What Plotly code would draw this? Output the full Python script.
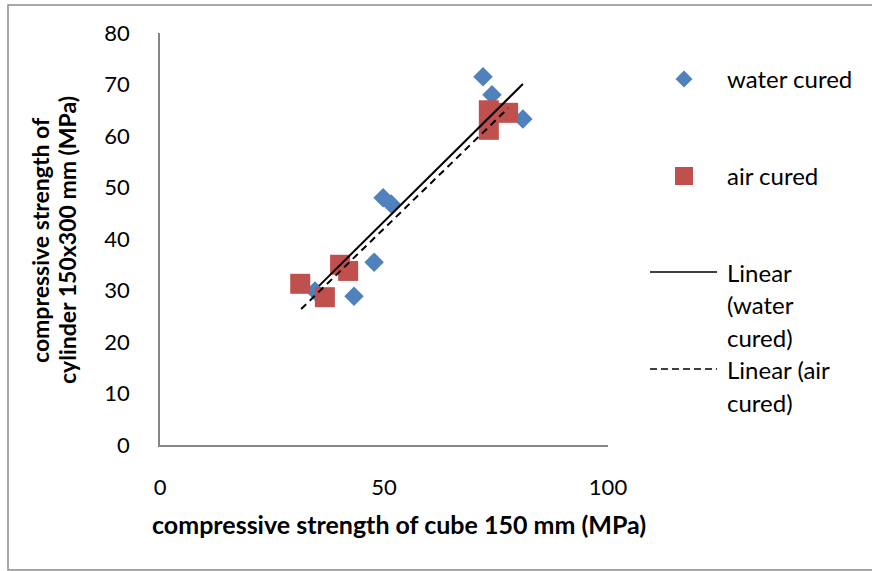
import plotly.graph_objects as go

# Compressive strength: cube (x) vs cylinder (y), MPa
water_cube = [72.1, 74.1, 81.0, 49.8, 51.6, 47.8, 43.3, 34.6]
water_cyl = [71.5, 68.0, 63.3, 48.0, 46.8, 35.5, 28.9, 29.9]
air_cube = [31.3, 36.8, 40.2, 42.0, 73.4, 77.7, 73.4]
air_cyl = [31.3, 28.7, 35.0, 33.8, 65.0, 64.5, 61.2]

# Linear trend lines (end points of the fitted lines)
water_trend_x = [35.5, 81.0]
water_trend_y = [30.9, 70.1]
air_trend_x = [31.5, 77.7]
air_trend_y = [26.4, 65.4]

x_ticks = [0, 50, 100]
y_ticks = [0, 10, 20, 30, 40, 50, 60, 70, 80]

BLUE = "#4F81BD"
RED = "#C0504D"
AXIS = "#868686"
FONT = "Lato"

W, H = 872, 571
L, R, T, B = 160, 264, 33, 126
PW, PH = W - L - R, H - T - B


def px(xp):
    return (xp - L) / PW


def py(yp):
    return (H - B - yp) / PH


fig = go.Figure()
fig.add_trace(go.Scatter(x=water_cube, y=water_cyl, mode="markers",
                         marker=dict(symbol="diamond", size=15, color=BLUE),
                         showlegend=False))
fig.add_trace(go.Scatter(x=air_cube, y=air_cyl, mode="markers",
                         marker=dict(symbol="square", size=20, color=RED),
                         showlegend=False))
fig.add_trace(go.Scatter(x=water_trend_x, y=water_trend_y, mode="lines",
                         line=dict(color="black", width=2), showlegend=False))
fig.add_trace(go.Scatter(x=air_trend_x, y=air_trend_y, mode="lines",
                         line=dict(color="black", width=2, dash="7px,5px"),
                         showlegend=False))

shapes = []
# outer chart frame
shapes.append(dict(type="rect", xref="paper", yref="paper",
                   x0=px(8), x1=px(900), y0=py(570), y1=py(5),
                   line=dict(color="#8C8C8C", width=1.5), layer="below"))

# legend swatches
cx, cy, r = 684, 79, 8.5
shapes.append(dict(type="path", xref="paper", yref="paper",
                   path=f"M {px(cx-r)} {py(cy)} L {px(cx)} {py(cy-r)} L {px(cx+r)} {py(cy)} L {px(cx)} {py(cy+r)} Z",
                   fillcolor=BLUE, line=dict(width=0)))
cx, cy, r = 684, 176, 9
shapes.append(dict(type="rect", xref="paper", yref="paper",
                   x0=px(cx-r), x1=px(cx+r), y0=py(cy+r), y1=py(cy-r),
                   fillcolor=RED, line=dict(width=0)))
shapes.append(dict(type="line", xref="paper", yref="paper",
                   x0=px(650), x1=px(717), y0=py(272), y1=py(272),
                   line=dict(color="black", width=1.5)))
shapes.append(dict(type="line", xref="paper", yref="paper",
                   x0=px(650), x1=px(717), y0=py(369), y1=py(369),
                   line=dict(color="black", width=1.5, dash="7px,4px")))

annotations = []
legend_lines = [("water cured", 79), ("air cured", 176), ("Linear", 272),
                ("(water", 304.5), ("cured)", 337), ("Linear (air", 369.5),
                ("cured)", 402)]
for txt, yy in legend_lines:
    annotations.append(dict(text=txt, x=px(725), y=py(yy), xref="paper", yref="paper",
                            xanchor="left", yanchor="middle", showarrow=False,
                            font=dict(family=FONT, size=24, color="black")))

annotations.append(dict(text="<b>compressive strength of cube 150 mm (MPa)</b>",
                        x=px(399), y=py(524), xref="paper", yref="paper",
                        xanchor="center", yanchor="middle", showarrow=False,
                        font=dict(family=FONT, size=25, color="black")))
annotations.append(dict(text="<b>compressive strength of</b>",
                        x=px(40), y=py(240), xref="paper", yref="paper",
                        xanchor="center", yanchor="middle", showarrow=False, textangle=-90,
                        font=dict(family=FONT, size=23, color="black")))
annotations.append(dict(text="<b>cylinder 150x300 mm (MPa)</b>",
                        x=px(67), y=py(240), xref="paper", yref="paper",
                        xanchor="center", yanchor="middle", showarrow=False, textangle=-90,
                        font=dict(family=FONT, size=23, color="black")))

fig.update_layout(
    width=W, height=H,
    margin=dict(l=L, r=R, t=T, b=B),
    paper_bgcolor="white", plot_bgcolor="white",
    font=dict(family=FONT, size=22, color="black"),
    shapes=shapes, annotations=annotations,
    showlegend=False,
)
fig.update_xaxes(range=[0, 100], tickvals=x_ticks, ticks="", showgrid=False,
                 zeroline=False, showline=True, linecolor=AXIS, linewidth=1.5,
                 ticklabelstandoff=22, tickfont=dict(family=FONT, size=22))
fig.update_yaxes(range=[0, 80], tickvals=y_ticks, ticks="", showgrid=False,
                 zeroline=False, showline=True, linecolor=AXIS, linewidth=1.5,
                 ticklabelstandoff=24, tickfont=dict(family=FONT, size=22))

fig.write_html("out.html")
